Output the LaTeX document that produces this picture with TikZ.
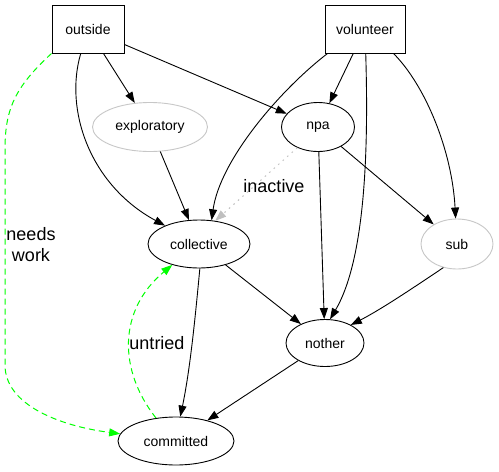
\documentclass[tikz,border=0pt]{standalone}
\usepackage{fontspec}
\setmainfont{Liberation Sans}
\usetikzlibrary{shapes.geometric,arrows.meta}
\begin{document}
\begin{tikzpicture}[x=1pt,y=-1pt,
  nodefont/.style={font=\fontsize{14}{16}\selectfont},
  labfont/.style={font=\fontsize{18}{21}\selectfont},
  box/.style={draw,rectangle,minimum width=72pt,minimum height=48pt,inner sep=0pt,line width=1pt,nodefont},
  ell/.style={draw,ellipse,inner sep=0pt,line width=0.9pt,nodefont},
  greyell/.style={ell,draw=black!22},
  edge/.style={-{Triangle[length=11pt,width=8pt]},line width=0.9pt},
  greenedge/.style={edge,draw=green,line width=1pt,dash pattern=on 6pt off 4pt,-{Triangle[length=11pt,width=8pt,fill=green]}},
  greyedge/.style={line width=1pt,draw=black!25,dash pattern=on 1.5pt off 4.5pt,-{Triangle[length=11pt,width=8pt,fill=black!25]}}
]
\useasboundingbox (0,0) rectangle (499,472);
\fill[white] (0,0) rectangle (499,472);

\node[box] (outside) at (88,29) {outside};
\node[box,minimum width=80pt] (volunteer) at (365,29) {volunteer};
\node[greyell,minimum width=115pt,minimum height=49pt] (exploratory) at (150,127) {exploratory};
\node[ell,minimum width=73pt,minimum height=49pt] (npa) at (318,127) {npa};
\node[ell,minimum width=102pt,minimum height=48pt] (collective) at (199,244) {collective};
\node[greyell,minimum width=72pt,minimum height=50pt] (sub) at (457,244) {sub};
\node[ell,minimum width=78pt,minimum height=47pt] (nother) at (325,343) {nother};
\node[ell,minimum width=116pt,minimum height=48pt] (committed) at (176,441) {committed};

% outside edges
\draw[edge] (outside) -- (exploratory);
\draw[edge] (outside) -- (npa);
\draw[edge] (outside) .. controls (64,110) and (90,185) .. (collective);
\draw[greenedge] (outside.south west) .. controls (14,88) and (5,110) .. (5,150) -- (5,365) .. controls (5,405) and (60,426) .. (committed);
\node[labfont,align=center] (needswork) at (31,245) {needs\\work};

% volunteer edges
\draw[edge] (volunteer) -- (npa);
\draw[edge] (volunteer.south west) ++(3,0) .. controls (280,90) and (220,160) .. (collective.62);
\draw[edge] (volunteer) .. controls (368,130) and (368,255) .. (nother.78);
\draw[edge] (volunteer.south east) ++(-12,0) .. controls (425,85) and (452,150) .. (sub);

% others
\draw[edge] (exploratory) -- (collective);
\draw[greyedge] (npa.225) -- (collective.55);
\node[labfont] (inactive) at (274,186) {inactive};
\draw[edge] (npa) -- (nother);
\draw[edge] (npa) -- (sub);
\draw[edge] (collective) -- (nother);
\draw[edge] (sub.240) .. controls (410,290) and (380,310) .. (nother.35);
\draw[edge] (nother) -- (committed);
\draw[edge] (collective.272) .. controls (195,320) and (190,370) .. (committed.80);
\draw[greenedge] (committed.131) .. controls (118,370) and (118,310) .. (collective.218);
\node[labfont] (untried) at (157,343) {untried};
\end{tikzpicture}
\end{document}
